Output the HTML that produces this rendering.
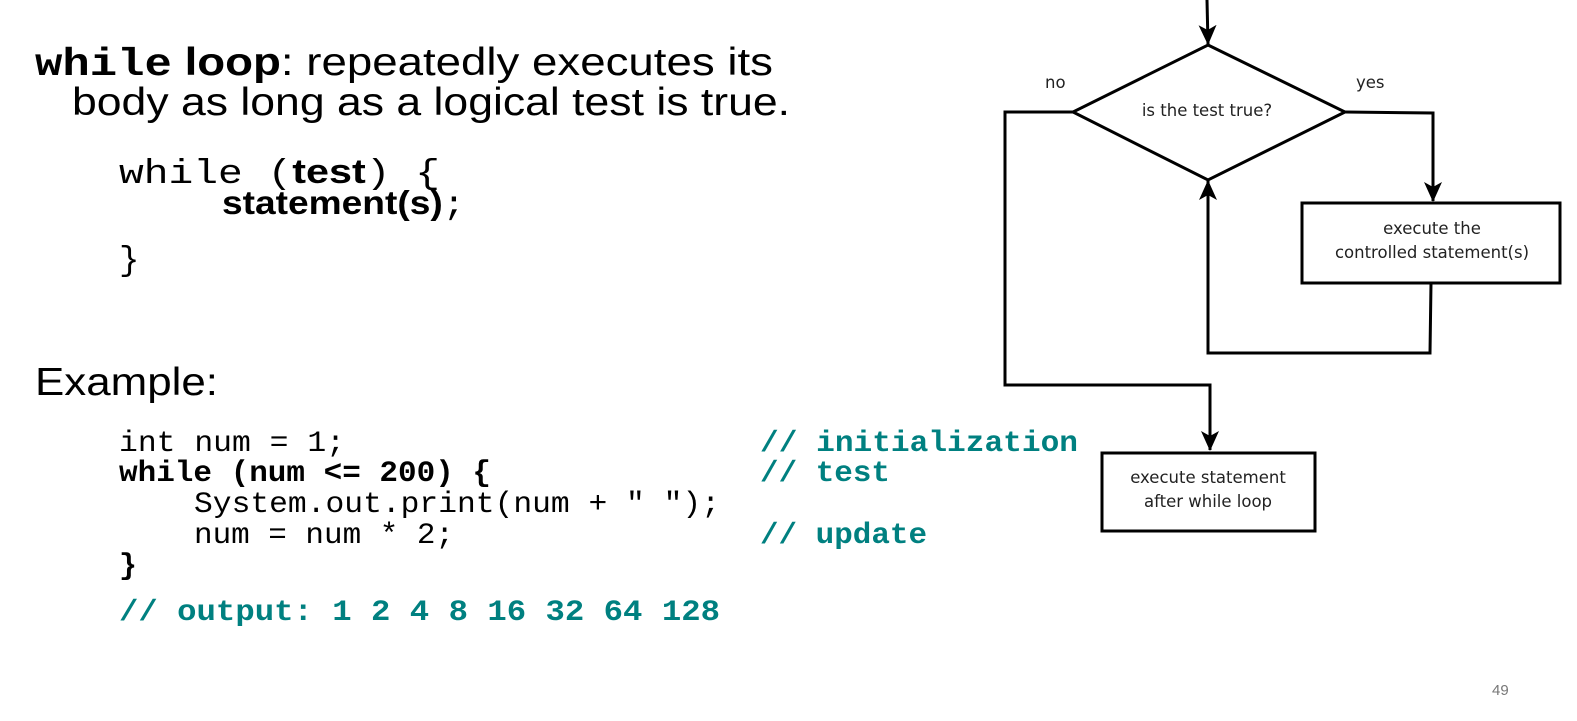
<!DOCTYPE html>
<html><head><meta charset="utf-8"><style>
html,body{margin:0;padding:0;background:#fff;}
svg{display:block;}
.s{font-family:"Liberation Sans",sans-serif;}
.m{font-family:"Liberation Mono",monospace;}
.d{font-family:"DejaVu Sans",sans-serif;font-size:16.5px;fill:#222;}
.t{fill:#008080;font-weight:bold;}
</style></head><body>
<svg width="1577" height="721" viewBox="0 0 1577 721" xmlns="http://www.w3.org/2000/svg">
<defs><marker id="a" markerWidth="22" markerHeight="20" refX="19" refY="10" orient="auto" markerUnits="userSpaceOnUse"><path d="M0,1 L20,10 L0,19 L5,10 Z" fill="#000"/></marker></defs>
<!-- title -->
<text x="35" y="75" font-size="39" textLength="738" lengthAdjust="spacingAndGlyphs"><tspan class="m" font-weight="bold">while</tspan><tspan class="s" font-weight="bold"> loop</tspan><tspan class="s">: repeatedly executes its</tspan></text>
<text class="s" x="72" y="115" font-size="39" textLength="718" lengthAdjust="spacingAndGlyphs">body as long as a logical test is true.</text>
<text x="119" y="183" font-size="34" textLength="321" lengthAdjust="spacingAndGlyphs"><tspan class="m">while (</tspan><tspan class="s" font-weight="bold">test</tspan><tspan class="m">) {</tspan></text>
<text x="222" y="214" font-size="33" textLength="243" lengthAdjust="spacingAndGlyphs"><tspan class="s" font-weight="bold">statement(s)</tspan><tspan class="m">;</tspan></text>
<text class="m" x="119" y="270" font-size="34">}</text>
<text class="s" x="35" y="395" font-size="39" textLength="183" lengthAdjust="spacingAndGlyphs">Example:</text>
<!-- code -->
<g class="m" font-size="30">
<text x="119" y="451" textLength="226" lengthAdjust="spacingAndGlyphs">int num = 1;</text>
<text x="119" y="481" font-weight="bold" textLength="372" lengthAdjust="spacingAndGlyphs">while (num &lt;= 200) {</text>
<text x="194" y="512" textLength="526" lengthAdjust="spacingAndGlyphs">System.out.print(num + " ");</text>
<text x="194" y="543" textLength="260" lengthAdjust="spacingAndGlyphs">num = num * 2;</text>
<text x="119" y="574" font-weight="bold">}</text>
<text class="t" x="760" y="451" textLength="318" lengthAdjust="spacingAndGlyphs">// initialization</text>
<text class="t" x="760" y="481" textLength="130" lengthAdjust="spacingAndGlyphs">// test</text>
<text class="t" x="760" y="543" textLength="167" lengthAdjust="spacingAndGlyphs">// update</text>
<text class="t" x="119" y="620" textLength="601" lengthAdjust="spacingAndGlyphs">// output:  1 2 4 8 16 32 64 128</text>
</g>
<text class="s" x="1492" y="695" font-size="15" fill="#777">49</text>
<!-- flowchart -->
<g stroke="#000" stroke-width="3" fill="none">
<line x1="1207" y1="0" x2="1208" y2="44" marker-end="url(#a)"/>
<polygon points="1208,45 1345,112 1208,180 1073,112" fill="#fff"/>
<polyline points="1073,112 1005,112 1005,385 1210,385 1210,450" marker-end="url(#a)"/>
<polyline points="1345,112 1433,113 1433,201" marker-end="url(#a)"/>
<rect x="1302" y="203" width="258" height="80" fill="#fff"/>
<polyline points="1431,283 1430,353 1208,353 1208,181" marker-end="url(#a)"/>
<rect x="1102" y="453" width="213" height="78" fill="#fff"/>
</g>
<text class="d" x="1045" y="88">no</text>
<text class="d" x="1356" y="88">yes</text>
<text class="d" x="1207" y="116" text-anchor="middle">is the test true?</text>
<text class="d" x="1432" y="234" text-anchor="middle">execute the</text>
<text class="d" x="1432" y="258" text-anchor="middle">controlled statement(s)</text>
<text class="d" x="1208" y="483" text-anchor="middle">execute statement</text>
<text class="d" x="1208" y="507" text-anchor="middle">after while loop</text>
</svg>
</body></html>
